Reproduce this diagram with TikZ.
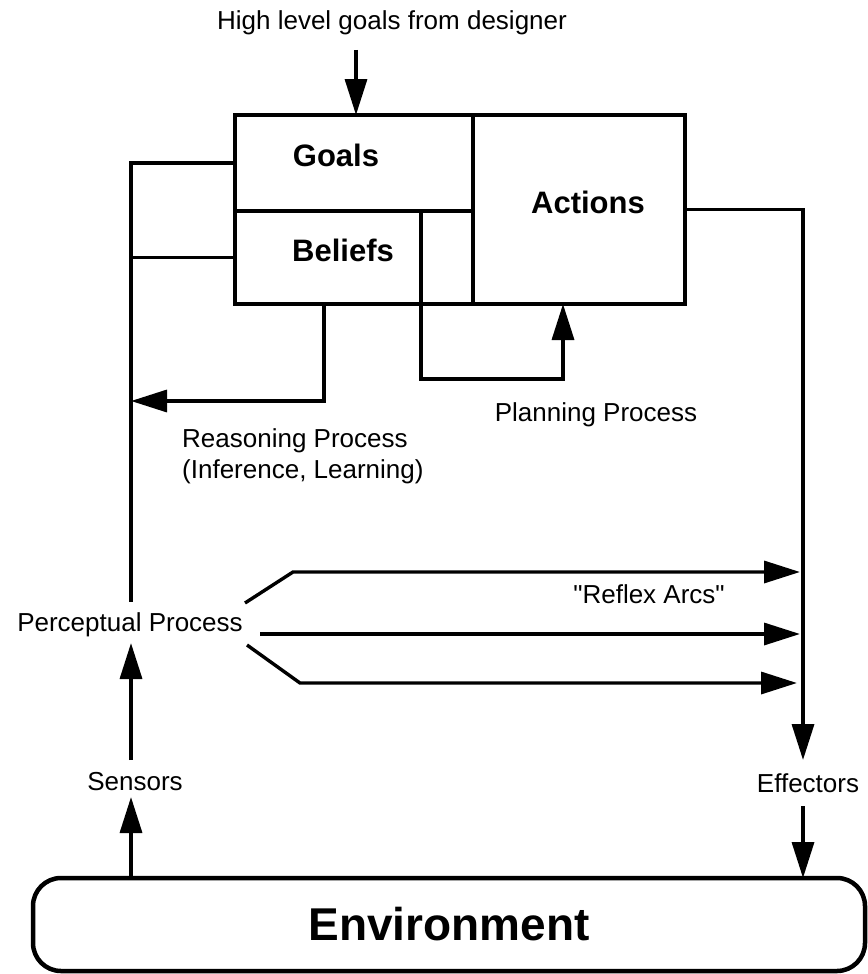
\documentclass[tikz,border=0pt]{standalone}
\usepackage{fontspec}
\setmainfont{Liberation Sans}
\usetikzlibrary{arrows.meta}
\begin{document}
\begin{tikzpicture}[x=1pt,y=-1pt,
  boxnode/.style={draw,line width=4pt,minimum width=#1,inner sep=0,outer sep=0},
  txt/.style={font=\fontsize{26}{31}\selectfont,inner sep=0},
  bigtxt/.style={font=\fontsize{31}{36}\selectfont\bfseries,inner sep=0},
  conn/.style={line width=3.4pt},
  arr/.style={conn,-{Triangle[length=36pt,width=22pt]}}
]
\useasboundingbox (0,0) rectangle (867,974);

% main boxes
\node[boxnode=238pt,minimum height=96pt] (goals) at (354,163) {};
\node[boxnode=238pt,minimum height=93pt] (beliefs) at (354,257.5) {};
\node[boxnode=212pt,minimum height=189pt] (actions) at (579,209.5) {};
\node[bigtxt] (goalslbl) at (336,155) {Goals};
\node[bigtxt] (beliefslbl) at (343,250) {Beliefs};
\node[bigtxt] (actionslbl) at (588,202) {Actions};

% title
\node[txt] (title) at (392,23) {High level goals from designer};
\coordinate (ta) at (356,50);
\draw[arr] (ta) -- (ta |- goals.north);

% left feedback
\coordinate (pn) at (131,602);
\draw[conn] (goals.west) -| (pn);
\draw[conn] (beliefs.west) -- (beliefs.west -| pn);

% reasoning
\coordinate (rc) at (324,401);
\draw[arr] (beliefs.south -| rc) -- (rc) -- (rc -| pn);
\node[txt,anchor=west,align=left] (reason) at (182,456) {Reasoning Process\\(Inference, Learning)};

% planning
\coordinate (pa) at (421,379);
\coordinate (pb) at (563,379);
\draw[arr] (goals.south -| pa) -- (pa) -- (pb) -- (actions.south -| pb);
\node[txt] (plan) at (596,415) {Planning Process};

% actions to effectors
\coordinate (ea) at (803,760);
\draw[arr] (actions.east) -| (ea);

% perceptual
\node[txt] (percep) at (130,625) {Perceptual Process};
\coordinate (ps) at (131,643);
\coordinate (sb) at (131,760);
\draw[arr] (sb) -- (ps);

% reflex arcs
\coordinate (r1a) at (245,603);
\coordinate (r1b) at (293,572);
\coordinate (r1c) at (800,572);
\coordinate (r2a) at (260,634);
\coordinate (r2c) at (800,634);
\coordinate (r3a) at (247,645);
\coordinate (r3b) at (300,683);
\coordinate (r3c) at (797,683);
\draw[arr] (r1a) -- (r1b) -- (r1c);
\draw[arr] (r2a) -- (r2c);
\draw[arr] (r3a) -- (r3b) -- (r3c);
\node[txt] (reflex) at (649,594) {\textquotedbl Reflex Arcs\textquotedbl};

% environment
\node[draw,line width=4.5pt,rounded corners=28pt,minimum width=832pt,minimum height=93pt,inner sep=0,outer sep=0,font=\fontsize{46}{52}\selectfont\bfseries] (env) at (449,924.5) {Environment};

% sensors / effectors
\node[txt] (sensors) at (135,782) {Sensors};
\node[txt] (effectors) at (808,783) {Effectors};
\coordinate (sa) at (131,797);
\draw[arr] (env.north -| sa) -- (sa);
\coordinate (eb) at (803,806);
\draw[arr] (eb) -- (eb |- env.north);
\end{tikzpicture}
\end{document}
